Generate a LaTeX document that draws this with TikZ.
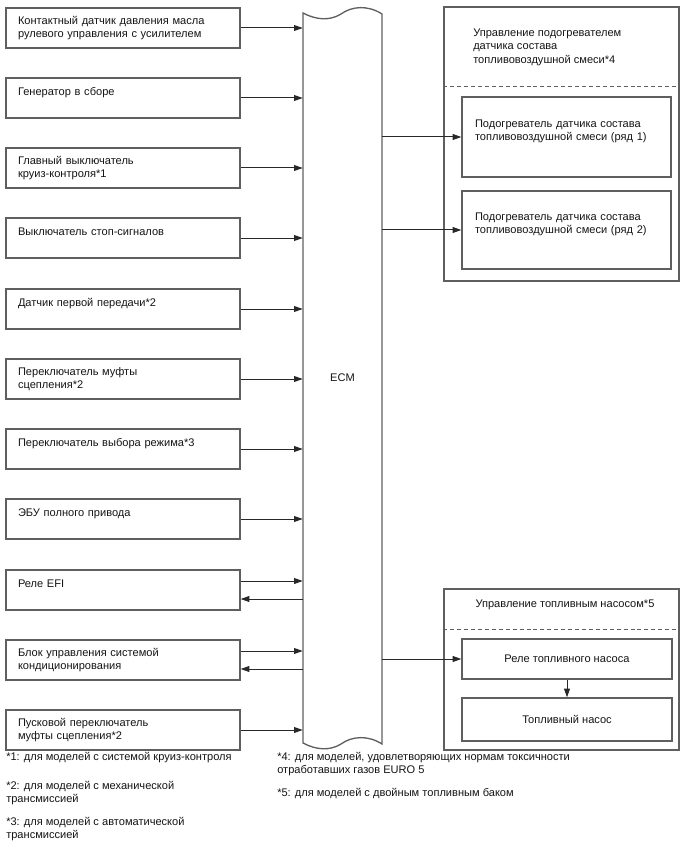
\documentclass[tikz,border=0pt]{standalone}
\usepackage{fontspec}
\setmainfont{Liberation Sans}
\usetikzlibrary{calc,arrows.meta,positioning}
\definecolor{frameGray}{RGB}{95,95,95}
\definecolor{wireGray}{RGB}{40,40,40}
\definecolor{inkGray}{RGB}{20,20,20}

\begin{document}
\begin{tikzpicture}[x=0.75pt,y=-0.75pt,
  font=\fontsize{8.3}{10.2}\selectfont,text=inkGray,
  unitbox/.style={draw=frameGray,line width=1pt,text width=157.5pt,minimum height=30pt,inner xsep=9pt,inner ysep=0pt,align=left,font=\fontsize{8.3}{9.4}\selectfont},
  groupbox/.style={draw=frameGray,line width=1pt,minimum width=176.25pt,inner sep=0pt},
  heaterbox/.style={draw=frameGray,line width=1pt,text width=137.25pt,minimum height=60pt,inner xsep=9.75pt,inner ysep=0pt,align=left},
  pumpbox/.style={draw=frameGray,line width=1pt,minimum width=157.5pt,minimum height=30pt,inner sep=0pt},
  splitline/.style={draw=frameGray,line width=0.75pt,dash pattern=on 3pt off 2.2pt},
  wire/.style={draw=wireGray,line width=0.75pt,-{Triangle[length=6.5pt,width=4.4pt]}},
  note/.style={anchor=west,align=left,inner sep=0pt}]

\useasboundingbox (0,0) rectangle (688,852);

% inputs
\node[unitbox] (steer) at (123,28) {Контактный датчик давления масла\\рулевого управления с усилителем};
\node[unitbox] (alt) at (123,98) {Генератор в сборе\\\mbox{}};
\node[unitbox] (cruise) at (123,168) {Главный выключатель\\круиз-контроля*1};
\node[unitbox] (stoplamp) at (123,238) {Выключатель стоп-сигналов\\\mbox{}};
\node[unitbox] (firstgear) at (123,309) {Датчик первой передачи*2\\\mbox{}};
\node[unitbox] (clutch) at (123,379) {Переключатель муфты\\сцепления*2};
\node[unitbox] (mode) at (123,449) {Переключатель выбора режима*3\\\mbox{}};
\node[unitbox] (awd) at (123,519) {ЭБУ полного привода\\\mbox{}};
\node[unitbox] (efi) at (123,590) {Реле EFI\\\mbox{}};
\node[unitbox] (aircon) at (123,660) {Блок управления системой\\кондиционирования};
\node[unitbox] (startclutch) at (123,730) {Пусковой переключатель\\муфты сцепления*2};

% ECM
\node[minimum width=59.25pt,minimum height=547.5pt,inner sep=0pt] (ecm) at (342.5,378) {ECM};
\draw[frameGray,line width=1pt] (303,13) -- (303,743)
  .. controls (316,750) and (330,751) .. (341,744)
  .. controls (352,736) and (368,735) .. (382,744) -- (382,14)
  .. controls (368,5) and (352,6) .. (341,14)
  .. controls (330,21) and (316,20) .. (303,13) -- cycle;

\draw[wire] (steer.east) -- (steer.east -| ecm.west);
\draw[wire] (alt.east) -- (alt.east -| ecm.west);
\draw[wire] (cruise.east) -- (cruise.east -| ecm.west);
\draw[wire] (stoplamp.east) -- (stoplamp.east -| ecm.west);
\draw[wire] (firstgear.east) -- (firstgear.east -| ecm.west);
\draw[wire] (clutch.east) -- (clutch.east -| ecm.west);
\draw[wire] (mode.east) -- (mode.east -| ecm.west);
\draw[wire] (awd.east) -- (awd.east -| ecm.west);
\draw[wire] ($(efi.east)+(0,-9)$) -- ($(efi.east -| ecm.west)+(0,-9)$);
\draw[wire] ($(efi.east -| ecm.west)+(0,9)$) -- ($(efi.east)+(0,9)$);
\draw[wire] ($(aircon.east)+(0,-9)$) -- ($(aircon.east -| ecm.west)+(0,-9)$);
\draw[wire] ($(aircon.east -| ecm.west)+(0,9)$) -- ($(aircon.east)+(0,9)$);
\draw[wire] (startclutch.east) -- (startclutch.east -| ecm.west);

% A/F sensor heater
\node[groupbox,minimum height=205.5pt] (heatgrp) at (561.5,144) {};
\coordinate (heatsplit) at (0,87);
\draw[splitline] (heatgrp.west |- heatsplit) -- (heatgrp.east |- heatsplit);
\node[anchor=west,align=left,inner sep=0pt] (heattitle) at (473,47) {Управление подогревателем\\датчика состава\\топливовоздушной смеси*4};
\node[heaterbox] (heatone) at (566.5,137) {Подогреватель датчика состава\\топливовоздушной смеси (ряд 1)\\\mbox{}};
\node[heaterbox,minimum height=58.5pt] (heattwo) at (566.5,230) {Подогреватель датчика состава\\топливовоздушной смеси (ряд 2)\\\mbox{}};
\draw[wire] (heatone.west -| ecm.east) -- (heatone.west);
\draw[wire] (heattwo.west -| ecm.east) -- (heattwo.west);

% fuel pump
\node[groupbox,minimum height=120.75pt] (pumpgrp) at (561.5,669.5) {};
\coordinate (pumpsplit) at (0,629);
\draw[splitline] (pumpgrp.west |- pumpsplit) -- (pumpgrp.east |- pumpsplit);
\node[inner sep=0pt] (pumptitle) at (565,605) {Управление топливным насосом*5};
\node[pumpbox] (relay) at (567,659) {Реле топливного насоса};
\node[pumpbox,minimum height=32.25pt] (pump) at (567,719.5) {Топливный насос};
\draw[wire] (relay.west -| ecm.east) -- (relay.west);
\draw[wire] (relay.south) -- (pump.north);

% notes
\node[note] (noteone) at (6,758) {*1: для моделей с системой круиз-контроля};
\node[note] (notetwo) at (6,793) {*2: для моделей с механической\\трансмиссией};
\node[note] (notethree) at (6,829) {*3: для моделей с автоматической\\трансмиссией};
\node[note] (notefour) at (277,764) {*4: для моделей, удовлетворяющих нормам токсичности\\отработавших газов EURO 5};
\node[note] (notefive) at (277,793) {*5: для моделей с двойным топливным баком};
\end{tikzpicture}
\end{document}
